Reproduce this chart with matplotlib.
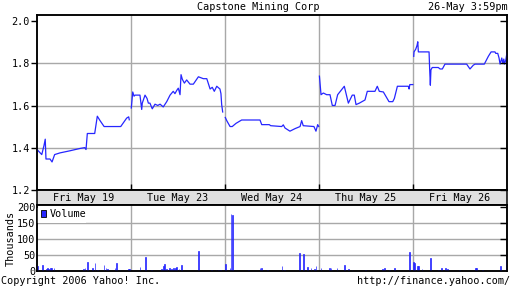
import matplotlib.pyplot as plt
from matplotlib.patches import Rectangle

# 종목 / 날짜
title = 'Capstone Mining Corp'
stamp = '26-May 3:59pm'
day_labels = ['Fri May 19', 'Tue May 23', 'Wed May 24', 'Thu May 25', 'Fri May 26']

# 장중 가격 (시간, 가격)
fri19_time = [9.50, 9.83, 9.98, 10.07, 10.12, 10.40, 10.54, 10.72, 11.09, 11.78, 12.47, 12.80,
              12.89, 12.98, 13.49, 13.67, 13.86, 14.14, 15.29, 15.70, 15.84, 15.88]
fri19_price = [1.392, 1.368, 1.410, 1.441, 1.347, 1.347, 1.333, 1.368, 1.376, 1.386, 1.397, 1.401,
               1.392, 1.468, 1.468, 1.550, 1.529, 1.501, 1.501, 1.541, 1.547, 1.533]

tue23_time = [9.52, 9.62, 9.71, 9.78, 10.12, 10.24, 10.28, 10.47, 10.61, 10.70, 10.81, 10.97,
              11.16, 11.35, 11.51, 11.73, 11.97, 12.20, 12.42, 12.54, 12.66, 12.77, 12.89, 12.96,
              13.05, 13.19, 13.35, 13.58, 13.81, 14.16, 14.50, 14.74, 14.97, 15.12, 15.26, 15.43,
              15.65, 15.72, 15.77, 15.84]
tue23_price = [1.589, 1.665, 1.645, 1.650, 1.650, 1.582, 1.612, 1.650, 1.634, 1.612, 1.612, 1.585,
               1.607, 1.601, 1.607, 1.594, 1.619, 1.650, 1.668, 1.657, 1.672, 1.683, 1.652, 1.747,
               1.725, 1.707, 1.722, 1.702, 1.702, 1.737, 1.728, 1.728, 1.679, 1.687, 1.668, 1.692,
               1.679, 1.657, 1.605, 1.570]

wed24_time = [9.52, 9.62, 9.85, 10.00, 10.26, 10.65, 11.92, 12.04, 12.56, 12.66, 13.42, 13.53,
              13.65, 13.99, 14.34, 14.69, 14.80, 14.91, 15.65, 15.79, 15.91, 15.98]
wed24_price = [1.544, 1.529, 1.501, 1.501, 1.516, 1.532, 1.532, 1.510, 1.510, 1.505, 1.501, 1.509,
               1.494, 1.479, 1.491, 1.501, 1.529, 1.505, 1.501, 1.479, 1.510, 1.501]

thu25_time = [9.53, 9.64, 9.80, 10.03, 10.26, 10.42, 10.61, 10.79, 11.02, 11.25, 11.53, 11.80,
              11.94, 12.06, 12.29, 12.68, 12.84, 13.37, 13.53, 13.67, 13.95, 14.34, 14.60, 14.71,
              14.92, 15.68, 15.73, 15.78, 15.99]
thu25_price = [1.740, 1.652, 1.660, 1.652, 1.652, 1.601, 1.601, 1.652, 1.672, 1.692, 1.612, 1.650,
               1.650, 1.605, 1.612, 1.627, 1.668, 1.668, 1.692, 1.668, 1.665, 1.619, 1.619, 1.634,
               1.692, 1.692, 1.679, 1.700, 1.700]

fri26_time = [9.55, 9.57, 9.69, 9.78, 9.83, 9.87, 10.61, 10.65, 10.70, 10.74, 10.83, 11.25,
              11.37, 11.53, 11.71, 13.21, 13.44, 13.67, 13.79, 14.43, 14.71, 14.90, 15.17, 15.22,
              15.36, 15.45, 15.52, 15.64, 15.71, 15.78, 15.82, 15.92, 15.99]
fri26_price = [1.834, 1.855, 1.868, 1.886, 1.903, 1.855, 1.855, 1.777, 1.697, 1.770, 1.781, 1.781,
               1.774, 1.774, 1.797, 1.797, 1.774, 1.792, 1.797, 1.797, 1.834, 1.855, 1.855, 1.848,
               1.848, 1.826, 1.797, 1.826, 1.800, 1.821, 1.797, 1.817, 1.848]

# 거래량 (천 주)
fri19_vtime = [9.52, 9.87, 10.17, 10.21, 10.28, 10.45, 10.52, 10.68, 12.70, 12.82, 12.98, 13.32,
               13.51, 13.67, 14.13, 14.27, 14.36, 14.48, 14.89, 14.98, 15.24, 15.81, 15.88]
fri19_vol = [15, 19, 5, 10, 5, 8, 8, 9, 6, 10, 28, 8, 26, 3, 19, 8, 5, 3, 8, 26, 3, 5, 5]

tue23_vtime = [10.12, 10.49, 10.93, 11.62, 11.73, 11.80, 11.97, 12.15, 12.31, 12.42, 12.59, 12.66,
               12.82, 13.01, 14.16, 15.08, 15.38, 15.54, 15.70]
tue23_vol = [13, 42, 3, 6, 16, 22, 5, 8, 5, 10, 10, 13, 6, 19, 62, 3, 3, 3, 3]

wed24_vtime = [9.52, 9.85, 9.92, 10.00, 11.11, 11.92, 12.01, 12.45, 13.44, 13.60, 14.63, 14.94,
               15.22, 15.45, 15.68, 15.79]
wed24_vol = [23, 8, 178, 173, 3, 10, 10, 3, 16, 3, 55, 53, 13, 10, 5, 16]

thu25_vtime = [9.64, 10.21, 10.33, 10.40, 10.74, 11.25, 11.55, 11.78, 12.70, 13.91, 14.02, 14.36,
               14.71, 15.74]
thu25_vol = [10, 8, 8, 3, 10, 19, 5, 3, 3, 5, 10, 3, 10, 60]

fri26_vtime = [9.52, 9.59, 9.80, 9.87, 10.12, 10.70, 11.28, 11.49, 11.74, 11.86, 12.71, 13.82,
               13.91, 14.33, 15.54, 15.93]
fri26_vol = [27, 24, 16, 14, 5, 40, 3, 8, 10, 5, 3, 8, 10, 3, 14, 37]

price_days = [(fri19_time, fri19_price), (tue23_time, tue23_price), (wed24_time, wed24_price),
              (thu25_time, thu25_price), (fri26_time, fri26_price)]
vol_days = [(fri19_vtime, fri19_vol), (tue23_vtime, tue23_vol), (wed24_vtime, wed24_vol),
            (thu25_vtime, thu25_vol), (fri26_vtime, fri26_vol)]


def to_x(day, hours):
    # 9:30 ~ 16:00 장을 하루 1칸으로
    return [day + (h - 9.5) / 6.5 for h in hours]


mono = 'DejaVu Sans Mono'
fs = 7.3
blue = '#2626ff'
grid_c = '#a8a8a8'

fig = plt.figure(figsize=(5.12, 2.88), dpi=100)
W, H = 512, 288


def box(x0, y0, x1, y1):
    return [x0 / W, 1 - y1 / H, (x1 - x0) / W, (y1 - y0) / H]


ax = fig.add_axes(box(37, 15, 507, 190))
band = fig.add_axes(box(37, 190, 507, 205))
axv = fig.add_axes(box(37, 205, 507, 271))

# 가격
for i, (t, p) in enumerate(price_days):
    ax.plot(to_x(i, t), p, color=blue, lw=0.9, zorder=3)
ax.set_xlim(0, 5)
ax.set_ylim(1.2, 2.03)
ax.set_yticks([1.2, 1.4, 1.6, 1.8, 2.0])
ax.set_yticklabels(['1.2', '1.4', '1.6', '1.8', '2.0'], fontfamily=mono, fontsize=fs)
ax.set_xticks([1, 2, 3, 4])
ax.set_xticklabels([])
for y in [1.4, 1.6, 1.8]:
    ax.axhline(y, color=grid_c, lw=1, zorder=1)
for d in [1, 2, 3, 4]:
    ax.axvline(d, color=grid_c, lw=1, zorder=1)
ax.tick_params(axis='y', direction='out', length=4, width=1, pad=1, left=True, right=False)
ax.tick_params(axis='x', direction='in', length=4, width=1)
# 오른쪽 안쪽 눈금
ax2 = ax.twinx()
ax2.set_ylim(ax.get_ylim())
ax2.set_yticks([1.2, 1.4, 1.6, 1.8, 2.0])
ax2.set_yticklabels([])
ax2.tick_params(axis='y', direction='in', length=5, width=1)

# 날짜 띠
band.set_facecolor('#e0e0e0')
band.set_xlim(0, 5)
band.set_ylim(0, 1)
band.set_xticks([])
band.set_yticks([])
for i, lab in enumerate(day_labels):
    band.text(i + 0.5, 0.45, lab, ha='center', va='center', fontfamily=mono, fontsize=fs)

# 거래량
for i, (t, v) in enumerate(vol_days):
    axv.bar(to_x(i, t), v, width=0.008, color=blue, edgecolor=blue, lw=0.5,
            align='center', zorder=3)
axv.set_xlim(0, 5)
axv.set_ylim(0, 205)
axv.set_yticks([0, 50, 100, 150, 200])
axv.set_yticklabels(['0', '50', '100', '150', '200'], fontfamily=mono, fontsize=fs)
axv.set_xticks([])
for y in [50, 100, 150]:
    axv.axhline(y, color=grid_c, lw=1, zorder=1)
for d in [1, 2, 3, 4]:
    axv.axvline(d, color=grid_c, lw=1, zorder=1)
axv.tick_params(axis='y', direction='in', length=0, pad=1, labelleft=True)
axv3 = axv.twinx()
axv3.set_ylim(axv.get_ylim())
axv3.set_yticks([50, 100, 150, 200])
axv3.set_yticklabels([])
axv3.tick_params(axis='y', direction='in', length=5, width=1)
axv.set_ylabel('Thousands', fontfamily=mono, fontsize=fs, labelpad=1)

# 범례
axv.add_patch(Rectangle((0.005, 150), 0.52, 45, facecolor='white', edgecolor='none', zorder=4))
axv.add_patch(Rectangle((0.04, 168), 0.06, 20, facecolor=blue, edgecolor='black', lw=0.6, zorder=5))
axv.text(0.14, 176, 'Volume', ha='left', va='center', fontfamily=mono, fontsize=fs, zorder=5)

for a in [ax, ax2, band, axv, axv3]:
    for s in a.spines.values():
        s.set_linewidth(1.1)
        s.set_color('black')

fig.text(258 / W, 1 - 7 / H, title, ha='center', va='center', fontfamily=mono, fontsize=fs)
fig.text(508 / W, 1 - 7 / H, stamp, ha='right', va='center', fontfamily=mono, fontsize=fs)
fig.text(1 / W, 1 - 281 / H, 'Copyright 2006 Yahoo! Inc.', ha='left', va='center', fontfamily=mono, fontsize=fs)
fig.text(510 / W, 1 - 281 / H, 'http://finance.yahoo.com/', ha='right', va='center', fontfamily=mono, fontsize=fs)

fig.savefig('out.png', dpi=100)
